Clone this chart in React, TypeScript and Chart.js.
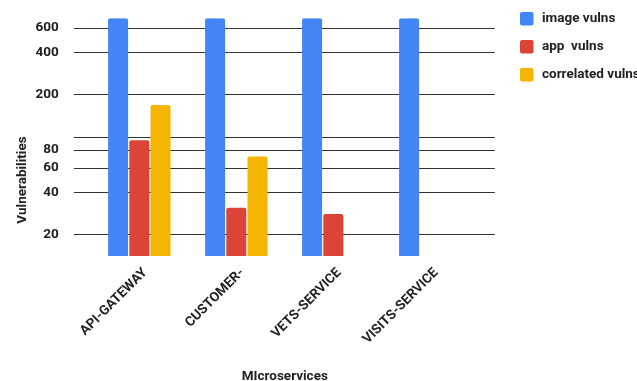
import React, { useEffect, useRef } from 'react';
import { Chart, registerables } from 'chart.js';

Chart.register(...registerables);

// Vulnerability counts per microservice (log scale)
const categories = ['API-GATEWAY', 'CUSTOMER-', 'VETS-SERVICE', 'VISITS-SERVICE'];
const imageVulns = [700, 700, 700, 700];
const appVulns = [94, 31, 28, null];
const correlatedVulns = [168, 72, null, null];

const seriesNames = ['image vulns', 'app  vulns', 'correlated vulns'];
const seriesColors = ['#4285F4', '#DB4437', '#F4B400'];

const yTickValues = [20, 40, 60, 80, 100, 200, 400, 600];
const yTickLabels = ['20', '40', '60', '80', '', '200', '400', '600'];
const yMin = 14;
const yMax = 700;

const xTitle = 'MIcroservices';
const yTitle = 'Vulnerabilities';

const FONT = 'Roboto, "Liberation Sans", Arial, sans-serif';
const TEXT = '#222222';
const labelFont = { family: FONT, size: 13.5, weight: 'bold' as const };

// Horizontal rules that run a little past the bar area on both sides
const wideGridPlugin = {
  id: 'wideGrid',
  beforeDatasetsDraw(chart: any) {
    const { ctx, chartArea, scales } = chart;
    const y = scales.y;
    ctx.save();
    ctx.strokeStyle = '#333333';
    ctx.lineWidth = 1;
    y.ticks.forEach((t: any) => {
      const py = Math.round(y.getPixelForValue(t.value)) + 0.5;
      ctx.beginPath();
      ctx.moveTo(chartArea.left - 17, py);
      ctx.lineTo(chartArea.right + 16, py);
      ctx.stroke();
    });
    ctx.restore();
  },
};

// Rotated y-axis caption
const yTitlePlugin = {
  id: 'yTitle',
  afterDraw(chart: any) {
    const { ctx } = chart;
    ctx.save();
    ctx.font = `bold 13.5px ${FONT}`;
    ctx.fillStyle = TEXT;
    ctx.textAlign = 'center';
    ctx.textBaseline = 'middle';
    ctx.translate(22.4, 180);
    ctx.rotate(-Math.PI / 2);
    ctx.fillText(yTitle, 0, 0);
    ctx.restore();
  },
};

// Legend column on the right
const sideLegendPlugin = {
  id: 'sideLegend',
  afterDraw(chart: any) {
    const { ctx } = chart;
    ctx.save();
    ctx.font = `bold 13.5px ${FONT}`;
    ctx.textBaseline = 'middle';
    ctx.textAlign = 'left';
    chart.data.datasets.forEach((ds: any, i: number) => {
      const top = 12 + i * 28;
      ctx.fillStyle = ds.backgroundColor;
      ctx.beginPath();
      ctx.roundRect(520, top, 13.5, 13.5, 2);
      ctx.fill();
      ctx.fillStyle = TEXT;
      ctx.fillText(ds.label, 542, top + 7);
    });
    ctx.restore();
  },
};

export default function App() {
  const canvasRef = useRef<HTMLCanvasElement | null>(null);

  useEffect(() => {
    if (!canvasRef.current) return;
    const seriesData = [imageVulns, appVulns, correlatedVulns];
    const chart = new Chart(canvasRef.current, {
      type: 'bar',
      data: {
        labels: categories,
        datasets: seriesData.map((d, i) => ({
          label: seriesNames[i],
          data: d,
          backgroundColor: seriesColors[i],
          borderWidth: 0,
          borderRadius: 2,
          borderSkipped: 'start',
          categoryPercentage: 0.656,
          barPercentage: 0.943,
        })),
      },
      options: {
        responsive: false,
        animation: false,
        devicePixelRatio: 1,
        layout: { padding: { top: 18.3, right: 158.2, bottom: 0, left: 0 } },
        plugins: {
          legend: { display: false },
          tooltip: { enabled: false },
        },
        scales: {
          x: {
            type: 'category',
            offset: true,
            grid: { display: false },
            border: { display: false },
            ticks: {
              color: TEXT,
              font: labelFont,
              minRotation: 45,
              maxRotation: 45,
              autoSkip: false,
              padding: 1,
              labelOffset: 6,
            },
            title: {
              display: true,
              text: xTitle,
              color: TEXT,
              font: labelFont,
              padding: { top: 0, bottom: -4 },
            },
            afterFit(scale: any) {
              scale.height = 125;
              scale.paddingLeft = 0;
              scale.paddingRight = 0;
            },
          },
          y: {
            type: 'logarithmic',
            min: yMin,
            max: yMax,
            bounds: 'data',
            grid: { display: false },
            border: { display: false },
            afterBuildTicks(scale: any) {
              scale.ticks = yTickValues.map((v) => ({ value: v }));
            },
            ticks: {
              color: TEXT,
              font: labelFont,
              padding: 24,
              callback: (_v: any, i: number) => yTickLabels[i],
            },
            afterFit(scale: any) {
              scale.width = 90.8;
              scale.paddingTop = 0;
              scale.paddingBottom = 0;
            },
          },
        },
      },
      plugins: [wideGridPlugin, yTitlePlugin, sideLegendPlugin],
    } as any);
    return () => chart.destroy();
  }, []);

  return (
    <div style={{ position: 'absolute', left: 0, top: 0, width: 637, height: 381, overflow: 'hidden', background: '#fff' }}>
      <canvas ref={canvasRef} width={637} height={381} style={{ display: 'block' }} />
    </div>
  );
}
